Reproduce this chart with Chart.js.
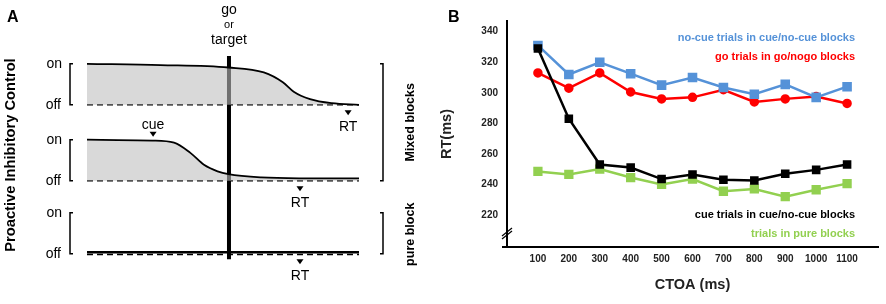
<!DOCTYPE html>
<html>
<head>
<meta charset="utf-8">
<script src="https://cdn.jsdelivr.net/npm/chart.js@4"></script>
<style>
  body { margin: 0; background: #fff; }
  #wrap { position: relative; width: 886px; height: 304px; }
  #boxA { position: absolute; left: 0; top: 0; width: 430px; height: 304px; }
  #boxB { position: absolute; left: 430px; top: 0; width: 456px; height: 304px; }
</style>
</head>
<body>
<div id="wrap">
  <div id="boxA"><canvas id="schemaChart"></canvas></div>
  <div id="boxB"><canvas id="rtChart"></canvas></div>
</div>
<script>
// ---- Panel B data ----
const ctoa = [100, 200, 300, 400, 500, 600, 700, 800, 900, 1000, 1100];
const yTicks = [220, 240, 260, 280, 300, 320, 340];
const noCueRT = [331, 312, 320, 312.5, 305, 310, 303.5, 299, 305.5, 297, 304];
const goRT = [313, 303, 313, 300.5, 296, 297, 302, 294, 296, 297.5, 293];
const cueRT = [329, 283, 253, 251, 243.5, 246.5, 243, 242.5, 247, 249.5, 253];
const pureRT = [248.5, 246.5, 250, 244.5, 240, 243.5, 235.5, 237, 232, 236.5, 240.5];

// ---- Panel A schematic (time 0..100, level off=0 .. on=1) ----
const noCueTime = [0, 27, 52, 65, 72, 76, 82, 90, 100];
const noCueLevel = [1, 0.97, 0.91, 0.79, 0.55, 0.32, 0.14, 0.04, 0];
const cueTime = [0, 24, 32, 38, 43, 48, 52, 64, 78, 100];
const cueLevel = [1, 0.98, 0.93, 0.68, 0.39, 0.23, 0.16, 0.08, 0.06, 0.06];
const pureTime = [0, 100];
const pureLevel = [0.04, 0.04];
const targetTime = 52.2;
const cueOnset = 24.3;
const rtTimes = [96, 78.3, 78.3];

Chart.defaults.font.family = "'Liberation Sans', Arial, sans-serif";
Chart.defaults.color = '#000';

// vertical offset of each row (mixed/no-cue, mixed/cue, pure)
const rowBase = [3.63, 1.78, 0];

function pts(times, levels, base) {
  return times.map((t, i) => ({x: t, y: base + levels[i]}));
}

function baseline(base) {
  return {
    data: [{x: 0, y: base}, {x: 100, y: base}],
    borderColor: '#000',
    borderWidth: 1.5,
    borderDash: [6, 4],
    pointRadius: 0,
    order: 2
  };
}

function downArrow(ctx, cx, top) {
  ctx.beginPath();
  ctx.moveTo(cx - 3.5, top);
  ctx.lineTo(cx + 3.5, top);
  ctx.lineTo(cx, top + 5);
  ctx.closePath();
  ctx.fill();
}

const schemaText = {
  id: 'schemaText',
  afterDraw(chart) {
    const {ctx, scales: {x, y}} = chart;
    ctx.save();
    ctx.fillStyle = '#000';
    ctx.strokeStyle = '#000';
    ctx.textBaseline = 'middle';

    ctx.font = 'bold 16px "Liberation Sans", Arial';
    ctx.textAlign = 'left';
    ctx.fillText('A', 7, 18);

    const tx = x.getPixelForValue(targetTime);
    ctx.textAlign = 'center';
    ctx.font = '14px "Liberation Sans", Arial';
    ctx.fillText('go', tx, 10);
    ctx.font = '11px "Liberation Sans", Arial';
    ctx.fillText('or', tx, 25);
    ctx.font = '14px "Liberation Sans", Arial';
    ctx.fillText('target', tx, 40);

    // on/off labels and left brackets
    ctx.lineWidth = 1.5;
    rowBase.forEach((b, i) => {
      const yOn = y.getPixelForValue(b + 1);
      const yOff = y.getPixelForValue(b);
      ctx.textAlign = 'right';
      ctx.fillText('on', 62, yOn);
      ctx.fillText('off', 61, yOff);
      ctx.beginPath();
      ctx.moveTo(73, yOn);
      ctx.lineTo(70, yOn);
      ctx.lineTo(70, yOff);
      ctx.lineTo(73, yOff);
      ctx.stroke();

      const rx = x.getPixelForValue(rtTimes[i]);
      downArrow(ctx, rx, yOff + 5.5);
      ctx.textAlign = 'center';
      ctx.fillText('RT', rx, yOff + 22);
    });

    // cue marker
    const cx = x.getPixelForValue(cueOnset);
    const yCueOn = y.getPixelForValue(rowBase[1] + 1);
    downArrow(ctx, cx, yCueOn - 8);
    ctx.fillText('cue', cx, yCueOn - 15);

    // right brackets
    const bx = 383;
    const brk = (y1, y2) => {
      ctx.beginPath();
      ctx.moveTo(bx - 3, y1);
      ctx.lineTo(bx, y1);
      ctx.lineTo(bx, y2);
      ctx.lineTo(bx - 3, y2);
      ctx.stroke();
    };
    const mixTop = y.getPixelForValue(rowBase[0] + 1);
    const mixBot = y.getPixelForValue(rowBase[1]);
    const pureTop = y.getPixelForValue(rowBase[2] + 1);
    const pureBot = y.getPixelForValue(rowBase[2]);
    brk(mixTop, mixBot);
    brk(pureTop, pureBot);

    ctx.font = 'bold 12.5px "Liberation Sans", Arial';
    ctx.save();
    ctx.translate(411, (mixTop + mixBot) / 2);
    ctx.rotate(-Math.PI / 2);
    ctx.fillText('Mixed blocks', 0, 0);
    ctx.restore();
    ctx.save();
    ctx.translate(411, (pureTop + pureBot) / 2 + 1);
    ctx.rotate(-Math.PI / 2);
    ctx.fillText('pure block', 0, 0);
    ctx.restore();

    ctx.font = 'bold 14.7px "Liberation Sans", Arial';
    ctx.save();
    ctx.translate(11, 155);
    ctx.rotate(-Math.PI / 2);
    ctx.fillText('Proactive Inhibitory Control', 0, 0);
    ctx.restore();

    ctx.restore();
  }
};

const shade = 'rgba(190,190,190,0.59)';

new Chart(document.getElementById('schemaChart'), {
  type: 'line',
  data: {
    datasets: [
      {
        data: pts(noCueTime, noCueLevel, rowBase[0]),
        borderColor: '#000',
        borderWidth: 1.8,
        backgroundColor: shade,
        fill: {value: rowBase[0]},
        cubicInterpolationMode: 'monotone',
        pointRadius: 0,
        order: 1
      },
      {
        data: pts(cueTime, cueLevel, rowBase[1]),
        borderColor: '#000',
        borderWidth: 1.8,
        backgroundColor: shade,
        fill: {value: rowBase[1]},
        cubicInterpolationMode: 'monotone',
        pointRadius: 0,
        order: 1
      },
      {
        data: pts(pureTime, pureLevel, rowBase[2]),
        borderColor: '#000',
        borderWidth: 2.5,
        pointRadius: 0,
        order: 1
      },
      baseline(rowBase[0]),
      baseline(rowBase[1]),
      baseline(rowBase[2] - 0.02),
      {
        data: [{x: targetTime, y: -0.13}, {x: targetTime, y: 4.82}],
        borderColor: '#000',
        borderWidth: 4,
        pointRadius: 0,
        order: 10
      }
    ]
  },
  options: {
    responsive: true,
    maintainAspectRatio: false,
    animation: false,
    layout: {padding: {left: 87, right: 71, top: 56, bottom: 42}},
    datasets: {line: {clip: false}},
    scales: {
      x: {type: 'linear', min: 0, max: 100, display: false},
      y: {type: 'linear', min: -0.2, max: 4.82, display: false}
    },
    plugins: {legend: {display: false}, tooltip: {enabled: false}}
  },
  plugins: [schemaText]
});

// ---- Panel B ----
const rtNotes = {
  id: 'rtNotes',
  afterDraw(chart) {
    const {ctx, chartArea: a} = chart;
    ctx.save();
    ctx.textBaseline = 'middle';
    ctx.font = 'bold 16px "Liberation Sans", Arial';
    ctx.fillStyle = '#000';
    ctx.textAlign = 'left';
    ctx.fillText('B', 18, 18);

    ctx.font = 'bold 11px "Liberation Sans", Arial';
    ctx.textAlign = 'right';
    const rx = a.right - 23;
    ctx.fillStyle = '#5592d8';
    ctx.fillText('no-cue trials in cue/no-cue blocks', rx, a.top + 17);
    ctx.fillStyle = '#ff0000';
    ctx.fillText('go trials in go/nogo blocks', rx, a.top + 36);
    ctx.fillStyle = '#000';
    ctx.fillText('cue trials in cue/no-cue blocks', rx, a.bottom - 32);
    ctx.fillStyle = '#92d050';
    ctx.fillText('trials in pure blocks', rx, a.bottom - 13);

    // axis break marks and x-axis stub
    ctx.strokeStyle = '#000';
    ctx.lineWidth = 1.3;
    const by = a.bottom - 15;
    [0, 3].forEach(d => {
      ctx.beginPath();
      ctx.moveTo(a.left - 5, by + 4 + d);
      ctx.lineTo(a.left + 5, by - 4 + d);
      ctx.stroke();
    });
    ctx.lineWidth = 2;
    ctx.beginPath();
    ctx.moveTo(a.left - 5, a.bottom);
    ctx.lineTo(a.left, a.bottom);
    ctx.stroke();
    ctx.restore();
  }
};

const toXY = vals => ctoa.map((c, i) => ({x: c, y: vals[i]}));

new Chart(document.getElementById('rtChart'), {
  type: 'line',
  data: {
    datasets: [
      {
        label: 'cue trials in cue/no-cue blocks',
        data: toXY(cueRT),
        borderColor: '#000',
        backgroundColor: '#000',
        borderWidth: 2.5,
        pointStyle: 'rect',
        pointRadius: 4.3
      },
      {
        label: 'no-cue trials in cue/no-cue blocks',
        data: toXY(noCueRT),
        borderColor: '#5592d8',
        backgroundColor: '#5592d8',
        borderWidth: 2.5,
        pointStyle: 'rect',
        pointRadius: 5
      },
      {
        label: 'go trials in go/nogo blocks',
        data: toXY(goRT),
        borderColor: '#ff0000',
        backgroundColor: '#ff0000',
        borderWidth: 2.5,
        pointStyle: 'circle',
        pointRadius: 3.5
      },
      {
        label: 'trials in pure blocks',
        data: toXY(pureRT),
        borderColor: '#92d050',
        backgroundColor: '#92d050',
        borderWidth: 2.5,
        pointStyle: 'rect',
        pointRadius: 4.8
      }
    ]
  },
  options: {
    responsive: true,
    maintainAspectRatio: false,
    animation: false,
    layout: {padding: {left: 0, right: 8, top: 21, bottom: 0}},
    elements: {line: {tension: 0}, point: {borderWidth: 0}},
    scales: {
      x: {
        type: 'linear',
        min: 0,
        max: 1200,
        afterBuildTicks: axis => { axis.ticks = ctoa.map(v => ({value: v})); },
        afterFit: scale => { scale.height = 57; },
        grid: {drawOnChartArea: false, drawTicks: false},
        border: {display: true, color: '#000', width: 2},
        ticks: {
          padding: 6,
          font: {size: 10, weight: 'bold'},
          color: '#222',
          callback: v => String(v)
        },
        title: {
          display: true,
          text: 'CTOA (ms)',
          font: {size: 14.5, weight: 'bold'},
          color: '#222',
          padding: {top: 0, bottom: 10}
        }
      },
      y: {
        type: 'linear',
        min: 199,
        max: 347,
        afterBuildTicks: axis => { axis.ticks = yTicks.map(v => ({value: v})); },
        afterFit: scale => { scale.width = 77; },
        grid: {drawOnChartArea: false, drawTicks: false},
        border: {display: true, color: '#000', width: 2},
        ticks: {
          padding: 9,
          font: {size: 10, weight: 'bold'},
          color: '#222',
          callback: v => String(v)
        },
        title: {
          display: true,
          text: 'RT(ms)',
          font: {size: 14.5, weight: 'bold'},
          color: '#222',
          padding: {top: 8, bottom: 0}
        }
      }
    },
    plugins: {legend: {display: false}, tooltip: {enabled: false}}
  },
  plugins: [rtNotes]
});
</script>
</body>
</html>
